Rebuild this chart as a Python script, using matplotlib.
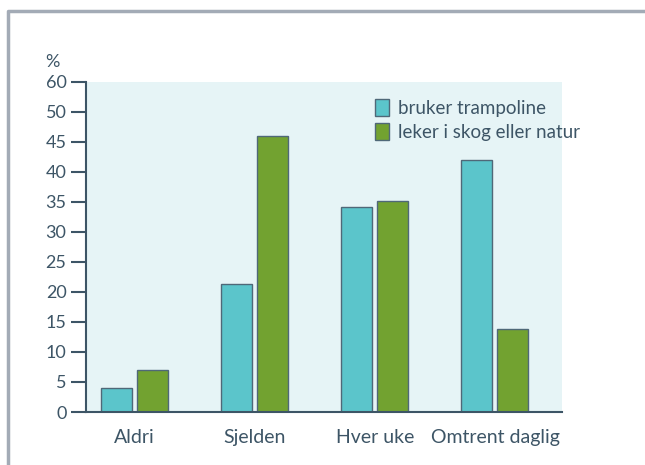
from matplotlib import pyplot as plt
from matplotlib.lines import Line2D
import numpy as np

categories = ['Aldri', 'Sjelden', 'Hver uke', 'Omtrent daglig']
trampoline = [4, 21.3, 34.2, 42]
natur = [7, 46, 35.2, 13.8]
series_names = ['bruker trampoline', 'leker i skog eller natur']
ytick_vals = [0, 5, 10, 15, 20, 25, 30, 35, 40, 45, 50, 55]
ytick_labels = ['0', '5', '10', '15', '20', '25', '30', '35', '40', '45', '50', '60']

dark = '#3d5566'
plt.rcParams['font.family'] = ['Lato', 'DejaVu Sans']

fig = plt.figure(figsize=(6.45, 4.65), dpi=100)
W, H = 645, 465

# outer frame: only left and top edges are visible
fl, ft = 8 / W, 1 - 11 / H
fig.lines.append(Line2D([fl, fl, 1.0], [0, ft, ft], transform=fig.transFigure,
                        color='#a3abb6', linewidth=2.5))

ax = fig.add_axes([86 / W, 1 - 412 / H, (562 - 86) / W, (412 - 82) / H])
ax.set_facecolor('#e6f4f6')

x = np.arange(len(categories))
bw = 0.258
ax.bar(x - 0.15, trampoline, bw, color='#5bc5cb', edgecolor='#4f6878', linewidth=1,
       label=series_names[0])
ax.bar(x + 0.15, natur, bw, color='#72a230', edgecolor='#4f6878', linewidth=1,
       label=series_names[1])

ax.set_xlim(-0.404, 3.558)
ax.set_ylim(0, 55)
ax.set_yticks(ytick_vals)
ax.set_yticklabels(ytick_labels)
ax.set_xticks(x)
ax.set_xticklabels(categories)

for s in ['top', 'right']:
    ax.spines[s].set_visible(False)
for s in ['left', 'bottom']:
    ax.spines[s].set_color(dark)
    ax.spines[s].set_linewidth(1.5)
ax.tick_params(axis='y', length=11, width=1.5, color=dark, labelcolor=dark,
               labelsize=13, pad=3)
ax.tick_params(axis='x', length=0, labelcolor=dark, labelsize=14, pad=12)

fig.text(52 / W, 1 - 62 / H, '%', color=dark, fontsize=13, ha='center', va='center')

leg = ax.legend(loc='upper left', bbox_to_anchor=((366 - 86) / 476, (412 - 90) / 330),
                frameon=False, fontsize=13.5, labelcolor=dark, handlelength=0.75,
                handleheight=1.0, handletextpad=0.45, labelspacing=0.3, borderpad=0)

fig.savefig('out.png', dpi=100)
